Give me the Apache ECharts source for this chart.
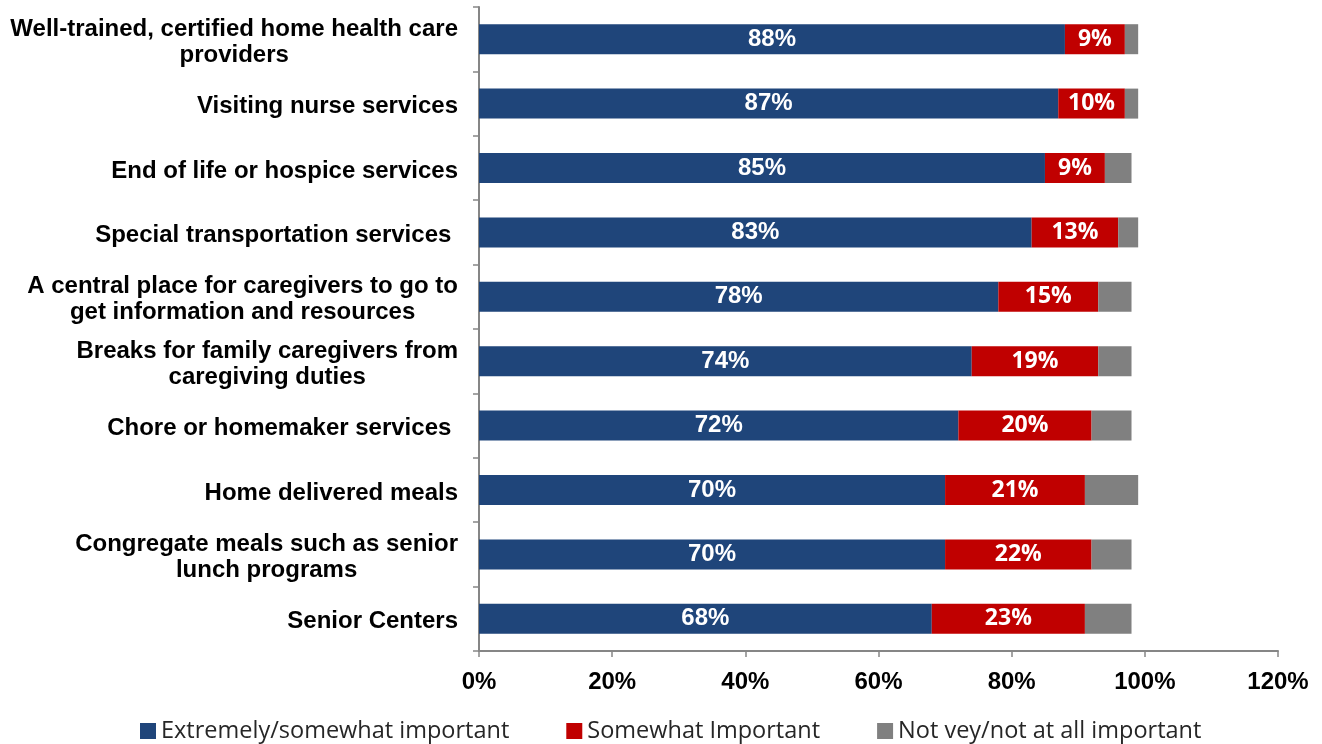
<!DOCTYPE html>
<html><head><meta charset="utf-8">
<script src="https://cdn.jsdelivr.net/npm/echarts@6/dist/echarts.min.js"></script>
<style>html,body{margin:0;padding:0;background:#fff}#c{width:1322px;height:744px}</style>
</head><body><div id="c"></div>
<script>
const categories = [
  "Well-trained, certified home health care\nproviders",
  "Visiting nurse services",
  "End of life or hospice services",
  "Special transportation services ",
  "A central place for caregivers to go to\nget information and resources",
  "Breaks for family caregivers from\ncaregiving duties",
  "Chore or homemaker services ",
  "Home delivered meals",
  "Congregate meals such as senior\nlunch programs",
  "Senior Centers"
];
const seriesNames = ["Extremely/somewhat important", "Somewhat Important", "Not vey/not at all important"];
const extremely = [88, 87, 85, 83, 78, 74, 72, 70, 70, 68];
const somewhat = [9, 10, 9, 13, 15, 19, 20, 21, 22, 23];
const notImportant = [2, 2, 4, 3, 5, 5, 6, 8, 6, 7];
const xTicks = [0, 20, 40, 60, 80, 100, 120];

const chart = echarts.init(document.getElementById('c'));
const labelFont = "'Liberation Sans', Arial, sans-serif";
const redFont = "'Open Sans', sans-serif";
chart.setOption({
  animation: false,
  grid: { left: 479, right: 44, top: 7, bottom: 93, containLabel: false },
  legend: {
    top: 714, left: 135, itemWidth: 16, itemHeight: 16, itemGap: 57, icon: 'rect',
    textStyle: { fontFamily: redFont, fontSize: 23.5, color: '#262626' },
    data: seriesNames
  },
  xAxis: {
    type: 'value', min: xTicks[0], max: xTicks[xTicks.length - 1], interval: 20,
    axisLine: { show: true, lineStyle: { color: '#868686', width: 2 } },
    axisTick: { show: true, length: 6, lineStyle: { color: '#868686', width: 1.5 } },
    splitLine: { show: false },
    axisLabel: { formatter: v => v + '%', fontFamily: labelFont, fontWeight: 'bold', fontSize: 24, color: '#000', margin: 19 }
  },
  yAxis: {
    type: 'category', inverse: true, data: categories,
    axisLine: { show: true, lineStyle: { color: '#868686', width: 2 } },
    axisTick: { show: true, length: 6, lineStyle: { color: '#868686', width: 1.5 } },
    axisLabel: {
      margin: 21, align: 'right', fontFamily: labelFont, fontWeight: 'bold', fontSize: 24, color: '#000', lineHeight: 26,
      padding: [6, 0, 0, 0],
      formatter: v => v.split('\n').map(s => '{c|' + s + '}').join('\n'),
      rich: { c: { align: 'center', fontFamily: labelFont, fontWeight: 'bold', fontSize: 24, color: '#000', lineHeight: 26 } }
    }
  },
  series: [
    { name: seriesNames[0], type: 'bar', stack: 't', data: extremely, barWidth: 30,
      itemStyle: { color: '#1F457A' },
      label: { show: true, position: 'inside', formatter: p => p.value + '%', color: '#fff', fontFamily: labelFont, fontWeight: 'bold', fontSize: 24 } },
    { name: seriesNames[1], type: 'bar', stack: 't', data: somewhat, barWidth: 30,
      itemStyle: { color: '#C00000' },
      label: { show: true, position: 'inside', formatter: p => p.value + '%', color: '#fff', fontFamily: redFont, fontWeight: 'bold', fontSize: 23 } },
    { name: seriesNames[2], type: 'bar', stack: 't', data: notImportant, barWidth: 30,
      itemStyle: { color: '#808080' }, label: { show: false } }
  ]
});
</script></body></html>
